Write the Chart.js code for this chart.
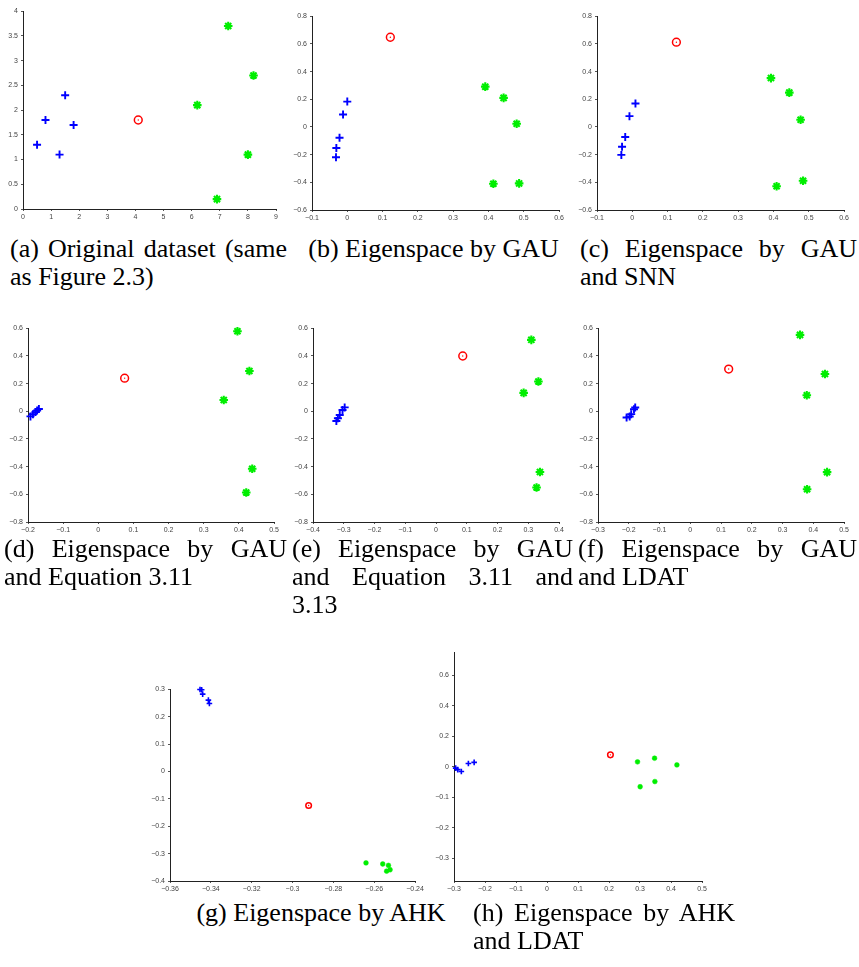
<!DOCTYPE html>
<html><head><meta charset="utf-8">
<script src="https://cdn.jsdelivr.net/npm/chart.js@4"></script>
<style>
body{margin:0;background:#fff;width:859px;height:967px;position:relative;overflow:hidden}
canvas{position:absolute}
.cap{position:absolute;font-family:"Liberation Serif","Times New Roman",serif;font-size:26px;line-height:28px;color:#000}
.j{text-align:justify;text-align-last:justify}
.c{text-align:center;white-space:nowrap}
.l{text-align:left;white-space:nowrap}
</style></head><body>
<script>
// ---- data ----
const aBlue  = [[0.5,1.3],[0.8,1.8],[1.5,2.3],[1.8,1.7],[1.3,1.1]];
const aGreen = [[7.3,3.7],[8.2,2.7],[6.2,2.1],[8.0,1.1],[6.9,0.2]];
const aRed   = [[4.1,1.8]];

const bBlue  = [[0.0,0.183],[-0.012,0.09],[-0.022,-0.078],[-0.031,-0.152],[-0.032,-0.219]];
const bGreen = [[0.391,0.291],[0.443,0.21],[0.48,0.023],[0.414,-0.41],[0.487,-0.408]];
const bRed   = [[0.122,0.648]];

const cBlue  = [[0.009,0.169],[-0.008,0.078],[-0.02,-0.073],[-0.029,-0.143],[-0.031,-0.202]];
const cGreen = [[0.393,0.353],[0.445,0.248],[0.477,0.052],[0.409,-0.428],[0.484,-0.389]];
const cRed   = [[0.125,0.612]];

const dBlue  = [[-0.193,-0.037],[-0.186,-0.022],[-0.179,-0.006],[-0.174,0.006],[-0.169,0.016]];
const dGreen = [[0.396,0.578],[0.43,0.291],[0.357,0.081],[0.438,-0.415],[0.421,-0.587]];
const dRed   = [[0.075,0.239]];

const eBlue  = [[-0.324,-0.07],[-0.319,-0.051],[-0.313,-0.027],[-0.304,0.009],[-0.297,0.028]];
const eGreen = [[0.31,0.516],[0.333,0.215],[0.285,0.133],[0.338,-0.439],[0.327,-0.551]];
const eRed   = [[0.087,0.399]];

const fBlue  = [[-0.207,-0.045],[-0.197,-0.038],[-0.192,-0.021],[-0.183,0.015],[-0.179,0.027]];
const fGreen = [[0.357,0.552],[0.438,0.269],[0.379,0.116],[0.445,-0.44],[0.38,-0.563]];
const fRed   = [[0.125,0.305]];

const gBlue  = [[-0.3453,0.299],[-0.3445,0.298],[-0.344,0.282],[-0.3412,0.26],[-0.3407,0.248]];
const gGreen = [[-0.264,-0.334],[-0.2558,-0.338],[-0.253,-0.343],[-0.2522,-0.359],[-0.2539,-0.364]];
const gRed   = [[-0.2921,-0.1246]];

const hBlue  = [[-0.2946,-0.005],[-0.288,-0.01],[-0.2763,-0.016],[-0.2536,0.02],[-0.235,0.028]];
const hGreen = [[0.292,0.031],[0.347,0.055],[0.419,0.011],[0.348,-0.049],[0.3005,-0.066]];
const hRed   = [[0.2046,0.077]];

// ---- tick labels ----
const aXTicks = [0,1,2,3,4,5,6,7,8,9];
const aYTicks = [0,0.5,1,1.5,2,2.5,3,3.5,4];
const bcXTicks = [-0.1,0,0.1,0.2,0.3,0.4,0.5,0.6];
const bcYTicks = [-0.6,-0.4,-0.2,0,0.2,0.4,0.6,0.8];
const dXTicks = [-0.2,-0.1,0,0.1,0.2,0.3,0.4,0.5];
const eXTicks = [-0.4,-0.3,-0.2,-0.1,0,0.1,0.2,0.3,0.4];
const fXTicks = [-0.3,-0.2,-0.1,0,0.1,0.2,0.3,0.4,0.5];
const defYTicks = [-0.8,-0.6,-0.4,-0.2,0,0.2,0.4,0.6];
const gXTicks = [-0.36,-0.34,-0.32,-0.3,-0.28,-0.26,-0.24];
const gYTicks = [-0.4,-0.3,-0.2,-0.1,0,0.1,0.2,0.3];
const hXTicks = [-0.3,-0.2,-0.1,0,0.1,0.2,0.3,0.4,0.5];
const hYTicks = [-0.3,-0.2,-0.1,0,0.2,0.4,0.6];

// panel (h) has a y axis whose positive labels step 0.2 per tick and negative 0.1 per tick
const hFwd = v => v > 0 ? v / 2 : v;
const hInv = v => v > 0 ? v * 2 : v;
const ident = v => v;

const panels = [
  {box:[23,10,276,209],   x:[0,9],      y:[0,4],     xt:aXTicks, yt:aYTicks, blue:aBlue, green:aGreen, red:aRed},
  {box:[312,15,559,210],  x:[-0.1,0.6], y:[-0.6,0.8],xt:bcXTicks,yt:bcYTicks,blue:bBlue, green:bGreen, red:bRed},
  {box:[597,15,844,210],  x:[-0.1,0.6], y:[-0.6,0.8],xt:bcXTicks,yt:bcYTicks,blue:cBlue, green:cGreen, red:cRed},
  {box:[28,327,274,522],  x:[-0.2,0.5], y:[-0.8,0.6],xt:dXTicks, yt:defYTicks,blue:dBlue, green:dGreen, red:dRed},
  {box:[313,327,559,522], x:[-0.4,0.4], y:[-0.8,0.6],xt:eXTicks, yt:defYTicks,blue:eBlue, green:eGreen, red:eRed},
  {box:[598,327,844,522], x:[-0.3,0.5], y:[-0.8,0.6],xt:fXTicks, yt:defYTicks,blue:fBlue, green:fGreen, red:fRed},
  {box:[170,688,415,881], x:[-0.36,-0.24], y:[-0.4,0.3], xt:gXTicks, yt:gYTicks, blue:gBlue, green:gGreen, red:gRed, small:true},
  {box:[454,651,702,881], x:[-0.3,0.5], y:[-0.375,0.375], xt:hXTicks, yt:hYTicks, blue:hBlue, green:hGreen, red:hRed, small:true, fwd:hFwd, inv:hInv}
];

const fmt = v => String(Number(v.toFixed(4))).replace('-', '\u2212');

function make(p){
  const W=40, H=16, PT=6, PR=14;
  const [L,T,R,B] = p.box;
  const fwd = p.fwd || ident, inv = p.inv || ident;
  const cw = (R-L)+W+PR, ch = (B-T)+PT+H;
  const c = document.createElement('canvas');
  c.width = cw; c.height = ch;
  c.style.left = (L-W)+'px'; c.style.top = (T-PT)+'px';
  c.style.width = cw+'px'; c.style.height = ch+'px';
  document.body.appendChild(c);
  const pts = arr => arr.map(([x,y]) => ({x:x, y:fwd(y)}));
  const sm = !!p.small;
  const tickFont = {family:'"Liberation Sans", Arial, sans-serif', size:7};
  const axisCommon = {
    type:'linear',
    grid:{display:true, drawOnChartArea:false, drawTicks:true, tickLength:2, color:'#555'},
    border:{display:true, color:'#222', width:1}
  };
  new Chart(c, {
    type:'scatter',
    data:{datasets:[
      {data:pts(p.blue), pointStyle:'cross', pointRadius: sm?2.8:4, pointBorderColor:'#0000ff', pointBackgroundColor:'#0000ff', pointBorderWidth: sm?1.6:1.9, clip:false},
      {data:pts(p.green), pointStyle: sm?'circle':'star', pointRadius: sm?2.4:4.3, pointBorderColor:'#00ee00', pointBackgroundColor:'#00ee00', pointBorderWidth: sm?0.5:2.1, clip:false},
      {data:pts(p.red), pointStyle:'circle', pointRadius: sm?2.8:3.9, pointBorderColor:'#ff0000', pointBackgroundColor:'rgba(255,255,255,0)', pointBorderWidth:1.5, clip:false},
      {data:pts(p.red), pointStyle:'circle', pointRadius:0.7, pointBorderColor:'#ff0000', pointBackgroundColor:'#ff0000', pointBorderWidth:0, clip:false}
    ]},
    options:{
      responsive:false, animation:false, devicePixelRatio:1,
      layout:{padding:{top:PT, right:PR, left:0, bottom:0}},
      plugins:{legend:{display:false}, tooltip:{enabled:false}},
      events:[],
      scales:{
        x:Object.assign({}, axisCommon, {
          min:p.x[0], max:p.x[1],
          afterBuildTicks: s => { s.ticks = p.xt.map(v => ({value:v})); },
          afterFit: s => { s.height = H; },
          ticks:{font:tickFont, color:'#444', padding:2, maxRotation:0, autoSkip:false, callback: v => fmt(v)}
        }),
        y:Object.assign({}, axisCommon, {
          min:p.y[0], max:p.y[1],
          afterBuildTicks: s => { s.ticks = p.yt.map(v => ({value:fwd(v)})); },
          afterFit: s => { s.width = W; },
          ticks:{font:tickFont, color:'#444', padding:3, autoSkip:false, callback: v => fmt(inv(v))}
        })
      }
    }
  });
}
panels.forEach(make);

// ---- captions ----
const captions = [
  {left:10,  top:235, width:277, lines:[['j','(a) Original dataset (same'],['l','as Figure 2.3)']]},
  {left:296, top:235, width:275, lines:[['c','(b) Eigenspace by GAU']]},
  {left:580, top:235, width:277, lines:[['j','(c) Eigenspace by GAU'],['l','and SNN']]},
  {left:4,   top:535, width:283, lines:[['j','(d) Eigenspace by GAU'],['l','and Equation 3.11']]},
  {left:292, top:535, width:281, lines:[['j','(e) Eigenspace by GAU'],['j','and Equation 3.11 and'],['l','3.13']]},
  {left:578, top:535, width:279, lines:[['j','(f) Eigenspace by GAU'],['l','and LDAT']]},
  {left:185, top:899, width:272, lines:[['c','(g) Eigenspace by AHK']]},
  {left:473, top:899, width:262, lines:[['j','(h) Eigenspace by AHK'],['l','and LDAT']]}
];
captions.forEach(cp => {
  const d = document.createElement('div');
  d.className = 'cap';
  d.style.left = cp.left+'px'; d.style.top = cp.top+'px'; d.style.width = cp.width+'px';
  cp.lines.forEach(([cls, txt]) => {
    const ln = document.createElement('div');
    ln.className = cls; ln.textContent = txt;
    d.appendChild(ln);
  });
  document.body.appendChild(d);
});
</script>
</body></html>
